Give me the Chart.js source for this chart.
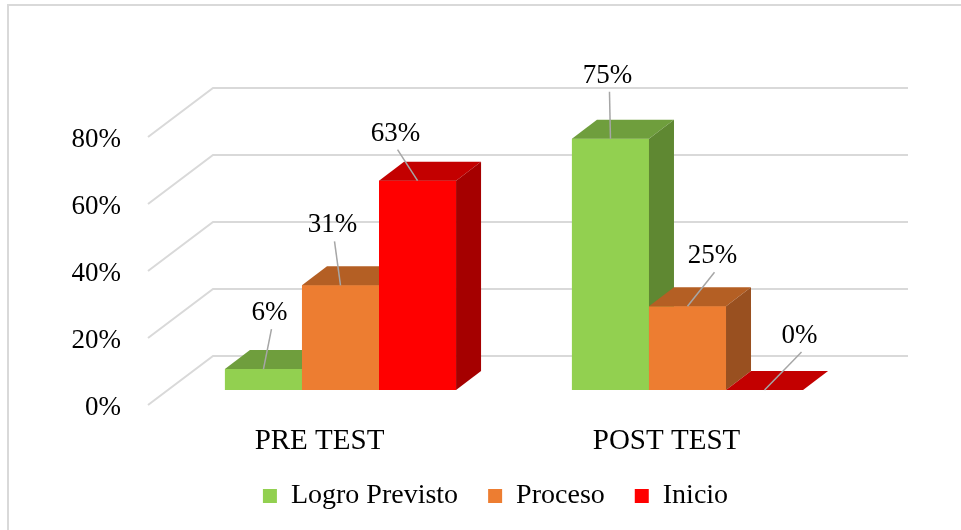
<!DOCTYPE html>
<html>
<head>
<meta charset="utf-8">
<title>Pre test / Post test</title>
<script src="https://cdn.jsdelivr.net/npm/chart.js@4.4.1/dist/chart.umd.min.js"></script>
<style>
  html, body { margin: 0; padding: 0; background: #fff; }
  #wrap { width: 961px; height: 530px; }
</style>
</head>
<body>
<div id="wrap"><canvas id="chart" width="961" height="530"></canvas></div>
<script>
// values (16 students: 1/16, 5/16, 10/16 ...)
var categories = ['PRE TEST', 'POST TEST'];
var logroPrevisto = [6.25, 75];
var proceso = [31.25, 25];
var inicio = [62.5, 0];
var yTicks = [0, 20, 40, 60, 80];

var serif = "'Liberation Serif', 'Times New Roman', serif";

// shading of the 3d faces, per dataset: [front, top, side]
var faces = [
	['#92d050', '#6f9e3d', '#5f8832'],
	['#ed7d31', '#b45f24', '#995020'],
	['#ff0000', '#c30000', '#a50000']
];
// where the data labels sit, relative to the top centre of each bar
var labelShift = [
	[[6, -58], [-3, -65]],
	[[-8, -62], [25, -52]],
	[[-22, -49], [35, -56]]
];
var DX = 25, DY = 19;

var bars3d = {
	id: 'bars3d',
	beforeDraw: function(chart) {
		var ctx = chart.ctx;
		ctx.save();
		ctx.strokeStyle = '#d9d9d9';
		ctx.lineWidth = 2;
		ctx.beginPath();
		ctx.moveTo(8, 530);
		ctx.lineTo(8, 5);
		ctx.lineTo(961, 5);
		ctx.stroke();
		ctx.restore();
	},
	beforeDatasetsDraw: function(chart) {
		var ctx = chart.ctx, ys = chart.scales.y, a = chart.chartArea;
		ctx.save();
		ctx.strokeStyle = '#d9d9d9';
		ctx.lineWidth = 2;
		yTicks.forEach(function(v) {
			var y = ys.getPixelForValue(v);
			ctx.beginPath();
			ctx.moveTo(a.left - 19, y + 15);
			ctx.lineTo(a.left + 46, y - 34);
			ctx.lineTo(a.right + 47, y - 34);
			ctx.stroke();
		});
		ctx.restore();
	},
	afterDatasetsDraw: function(chart) {
		var ctx = chart.ctx;
		ctx.save();
		chart.data.datasets.forEach(function(ds, i) {
			var meta = chart.getDatasetMeta(i);
			meta.data.forEach(function(bar) {
				var p = bar.getProps(['x', 'y', 'base', 'width'], true);
				var x0 = p.x - p.width / 2, x1 = p.x + p.width / 2;
				bar.draw(ctx);
				ctx.fillStyle = faces[i][1];
				ctx.beginPath();
				ctx.moveTo(x0, p.y);
				ctx.lineTo(x0 + DX, p.y - DY);
				ctx.lineTo(x1 + DX, p.y - DY);
				ctx.lineTo(x1, p.y);
				ctx.closePath();
				ctx.fill();
				ctx.fillStyle = faces[i][2];
				ctx.beginPath();
				ctx.moveTo(x1, p.y);
				ctx.lineTo(x1 + DX, p.y - DY);
				ctx.lineTo(x1 + DX, p.base - DY);
				ctx.lineTo(x1, p.base);
				ctx.closePath();
				ctx.fill();
			});
		});
		// data labels with leader lines
		ctx.font = '27px ' + serif;
		ctx.textAlign = 'center';
		ctx.textBaseline = 'middle';
		chart.data.datasets.forEach(function(ds, i) {
			var meta = chart.getDatasetMeta(i);
			meta.data.forEach(function(bar, j) {
				var p = bar.getProps(['x', 'y'], true);
				var lx = p.x + labelShift[i][j][0], ly = p.y + labelShift[i][j][1];
				ctx.strokeStyle = '#a6a6a6';
				ctx.lineWidth = 1.5;
				ctx.beginPath();
				ctx.moveTo(lx + 2, ly + 18);
				ctx.lineTo(p.x, p.y);
				ctx.stroke();
				ctx.fillStyle = '#000';
				ctx.fillText(Math.round(ds.data[j]) + '%', lx, ly + 2);
			});
		});
		ctx.restore();
	}
};

new Chart(document.getElementById('chart'), {
	type: 'bar',
	data: {
		labels: categories,
		datasets: [
			{label: 'Logro Previsto', data: logroPrevisto, backgroundColor: faces[0][0]},
			{label: 'Proceso', data: proceso, backgroundColor: faces[1][0]},
			{label: 'Inicio', data: inicio, backgroundColor: faces[2][0]}
		]
	},
	options: {
		responsive: false,
		animation: false,
		devicePixelRatio: 1,
		layout: {padding: {left: 30, right: 0, top: 122, bottom: 10}},
		datasets: {bar: {barPercentage: 1, categoryPercentage: 0.666, borderWidth: 0}},
		scales: {
			x: {
				grid: {display: false, drawTicks: false},
				border: {display: false},
				ticks: {font: {family: serif, size: 29}, color: '#000', padding: 34, labelOffset: -21},
				afterFit: function(s) { s.height = 62; }
			},
			y: {
				min: 0, max: 80,
				grid: {display: false, drawTicks: false},
				border: {display: false},
				ticks: {stepSize: 20, font: {family: serif, size: 27}, color: '#000', padding: 46, labelOffset: 18,
					callback: function(v) { return v + '%'; }},
				afterFit: function(s) { s.width = 137; }
			},
			yr: {
				position: 'right', display: true,
				grid: {display: false, drawTicks: false},
				border: {display: false},
				ticks: {display: false},
				afterFit: function(s) { s.width = 100; }
			}
		},
		plugins: {
			legend: {
				position: 'bottom',
				labels: {font: {family: serif, size: 28}, color: '#000', boxWidth: 14, boxHeight: 14, padding: 30}
			},
			tooltip: {enabled: false}
		}
	},
	plugins: [bars3d]
});
</script>
</body>
</html>
